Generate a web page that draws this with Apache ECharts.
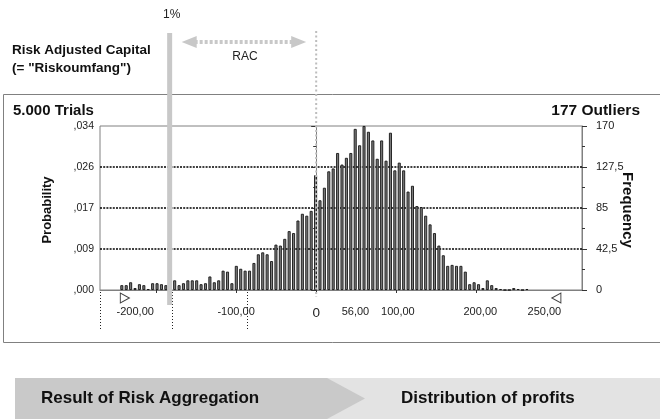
<!DOCTYPE html>
<html>
<head>
<meta charset="utf-8">
<script src="https://cdn.jsdelivr.net/npm/echarts@6/dist/echarts.min.js"></script>
<style>html,body{margin:0;padding:0;background:#fff;}#c{width:660px;height:419px;}</style>
</head>
<body>
<div id="c"></div>
<script>
// ---- data ----
const binCenters = [-242.75,-237.25,-231.75,-226.25,-220.75,-215.25,-209.75,-204.25,-198.75,-193.25,
  -187.75,-182.25,-176.75,-171.25,-165.75,-160.25,-154.75,-149.25,-143.75,-138.25,
  -132.75,-127.25,-121.75,-116.25,-110.75,-105.25,-99.75,-94.25,-88.75,-83.25,
  -77.75,-72.25,-66.75,-61.25,-55.75,-50.25,-44.75,-39.25,-33.75,-28.25,
  -22.75,-17.25,-11.75,-6.25,-0.75,4.75,10.25,15.75,21.25,26.75,
  32.25,37.75,43.25,48.75,54.25,59.75,65.25,70.75,76.25,81.75,
  87.25,92.75,98.25,103.75,109.25,114.75,120.25,125.75,131.25,136.75,
  142.25,147.75,153.25,158.75,164.25,169.75,175.25,180.75,186.25,191.75,
  197.25,202.75,208.25,213.75,219.25,224.75,230.25,235.75,241.25,246.75,
  252.25,257.75,263.25];
const frequency = [5,5,8,2,6,5,1,7,7,6,
  5,6,10,5,7,10,10,10,6,7,
  14,8,10,20,19,7,25,22,20,20,
  28,37,39,37,30,47,46,53,61,59,
  72,79,77,82,119,93,106,123,126,142,
  130,137,142,167,150,170,164,155,136,155,
  134,163,124,132,124,102,108,87,86,77,
  68,59,46,36,25,26,25,25,19,6,
  8,6,2,10,5,2,1,0,0,2,
  1,0,1];
const freqTicks = [0, 42.5, 85, 127.5, 170];
const freqTickLabels = ['0', '42,5', '85', '127,5', '170'];
const probTickLabels = [',000', ',009', ',017', ',026', ',034'];
const xTickValues = [-200, -100, 0, 100, 200];
const xLabelValues = [-226, -100, 0, 49, 102, 205, 285];
const xLabelTexts = ['-200,00', '-100,00', '0', '56,00', '100,00', '200,00', '250,00'];
const rangeMarkers = [-239, 300];
const percentile1 = -183;
const racEnd = 0;
const leaderValues = [-270, -180, -86];
const trialsText = '5.000 Trials';
const outliersText = '177 Outliers';

const FONT = '"Liberation Sans", Arial, sans-serif';
const chart = echarts.init(document.getElementById('c'), null, {renderer: 'canvas'});

chart.setOption({
  animation: false,
  grid: {left: 100, right: 78, top: 126, bottom: 129, show: true, borderColor: '#808080', borderWidth: 1},
  xAxis: {
    type: 'value', min: -270, max: 332,
    axisLine: {lineStyle: {color: '#808080', width: 1}},
    axisTick: {show: true, length: 3, customValues: xTickValues, lineStyle: {color: '#333'}},
    splitLine: {show: false},
    axisLabel: {
      customValues: xLabelValues, margin: 16, color: '#222', fontFamily: FONT, fontSize: 11,
      formatter: function (v) {
        const i = xLabelValues.indexOf(v);
        const t = i >= 0 ? xLabelTexts[i] : '';
        return t === '0' ? '{z|0}' : t;
      },
      rich: {z: {fontSize: 13.5, fontFamily: FONT, color: '#222'}}
    }
  },
  yAxis: [{
    type: 'value', min: 0, max: 170, interval: 42.5, position: 'left',
    axisLine: {show: true, lineStyle: {color: '#808080'}},
    axisTick: {show: true, length: 5, lineStyle: {color: '#333'}},
    minorTick: {show: true, splitNumber: 2, length: 3, lineStyle: {color: '#333'}},
    splitLine: {show: true, showMinLine: false, showMaxLine: false, lineStyle: {color: '#000', type: [2, 1.2], width: 1.6}},
    axisLabel: {margin: 6, color: '#222', fontFamily: FONT, fontSize: 10.5,
      formatter: function (v) { const i = freqTicks.indexOf(v); return i >= 0 ? probTickLabels[i] : ''; }}
  }, {
    type: 'value', min: 0, max: 170, interval: 42.5, position: 'right',
    axisLine: {show: true, lineStyle: {color: '#808080'}},
    axisTick: {show: true, length: 5, lineStyle: {color: '#333'}},
    minorTick: {show: true, splitNumber: 2, length: 3, lineStyle: {color: '#333'}},
    splitLine: {show: false},
    axisLabel: {margin: 14, color: '#222', fontFamily: FONT, fontSize: 11,
      formatter: function (v) { const i = freqTicks.indexOf(v); return i >= 0 ? freqTickLabels[i] : ''; }}
  }],
  series: [{
    type: 'bar', xAxisIndex: 0, yAxisIndex: 1, barWidth: 3,
    data: binCenters.map((x, i) => [x, frequency[i]]),
    itemStyle: {color: '#7c7c7c', borderColor: '#141414', borderWidth: 0.9}
  }, {
    type: 'scatter', xAxisIndex: 0, yAxisIndex: 1, clip: false, z: 5,
    data: rangeMarkers.map((x, i) => ({value: [x, 0], symbolRotate: i === 0 ? -90 : 90})),
    symbol: 'triangle', symbolSize: [10, 9], symbolOffset: [0, 8],
    itemStyle: {color: '#fff', borderColor: '#111', borderWidth: 1}
  }]
});

const px = v => chart.convertToPixel({xAxisIndex: 0}, v);
const p1 = px(percentile1), p0 = px(racEnd);
const g = [];
// outer frame
g.push({type: 'rect', shape: {x: 3.5, y: 94.5, width: 700, height: 248}, style: {fill: null, stroke: '#808080', lineWidth: 1}, z: 1});
// leader dotted lines below axis
leaderValues.forEach(v => {
  const x = Math.round(px(v)) + 0.5;
  g.push({type: 'line', shape: {x1: x, y1: 292, x2: x, y2: 330}, style: {stroke: '#222', lineWidth: 1, lineDash: [1, 2]}, z: 2});
});
// 1% line
g.push({type: 'line', shape: {x1: p1, y1: 33, x2: p1, y2: 305}, style: {stroke: '#c8c8c8', lineWidth: 5}, z: 20});
// zero dotted line
g.push({type: 'line', shape: {x1: p0, y1: 31, x2: p0, y2: 297}, style: {stroke: '#bdbdbd', lineWidth: 2, lineDash: [2, 2.5]}, z: 20});
// RAC arrow
g.push({type: 'line', shape: {x1: p1 + 25, y1: 42, x2: p0 - 24, y2: 42}, style: {stroke: '#c8c8c8', lineWidth: 4, lineDash: [3, 2]}, z: 20});
g.push({type: 'polygon', shape: {points: [[p1 + 12, 42], [p1 + 27, 36], [p1 + 27, 48]]}, style: {fill: '#c8c8c8'}, z: 20});
g.push({type: 'polygon', shape: {points: [[p0 - 10, 42], [p0 - 25, 36], [p0 - 25, 48]]}, style: {fill: '#c8c8c8'}, z: 20});
g.push({type: 'text', style: {text: 'RAC', x: (p1 + p0) / 2 + 2, y: 57, align: 'center', verticalAlign: 'middle', font: '12px ' + FONT, fill: '#222'}, z: 20});
g.push({type: 'text', style: {text: '1%', x: p1 + 2, y: 15, align: 'center', verticalAlign: 'middle', font: '12px ' + FONT, fill: '#222'}, z: 20});
// header texts
g.push({type: 'text', style: {text: 'Risk Adjusted Capital', x: 12, y: 50, verticalAlign: 'middle', font: 'bold 13.5px ' + FONT, fill: '#111'}});
g.push({type: 'text', style: {text: '(= "Riskoumfang")', x: 12, y: 68, verticalAlign: 'middle', font: 'bold 13.5px ' + FONT, fill: '#111'}});
g.push({type: 'text', style: {text: trialsText, x: 13, y: 111, verticalAlign: 'middle', font: 'bold 15px ' + FONT, fill: '#111'}});
g.push({type: 'text', style: {text: outliersText, x: 640, y: 111, align: 'right', verticalAlign: 'middle', font: 'bold 15.5px ' + FONT, fill: '#111'}});
g.push({type: 'text', x: 47, y: 210, rotation: Math.PI / 2, style: {text: 'Probability', align: 'center', verticalAlign: 'middle', font: 'bold 13px ' + FONT, fill: '#111'}});
g.push({type: 'text', x: 627, y: 210, rotation: -Math.PI / 2, style: {text: 'Frequency', align: 'center', verticalAlign: 'middle', font: 'bold 15px ' + FONT, fill: '#111'}});
// bottom banner
g.push({type: 'rect', shape: {x: 15, y: 378, width: 660, height: 41}, style: {fill: '#e3e3e3'}});
g.push({type: 'polygon', shape: {points: [[15, 378], [327, 378], [365, 398.5], [327, 419], [15, 419]]}, style: {fill: '#c9c9c9'}});
g.push({type: 'text', style: {text: 'Result of Risk Aggregation', x: 41, y: 398, verticalAlign: 'middle', font: 'bold 17px ' + FONT, fill: '#111'}});
g.push({type: 'text', style: {text: 'Distribution of profits', x: 401, y: 398, verticalAlign: 'middle', font: 'bold 17px ' + FONT, fill: '#111'}});

chart.setOption({graphic: {elements: g}});
</script>
</body>
</html>
